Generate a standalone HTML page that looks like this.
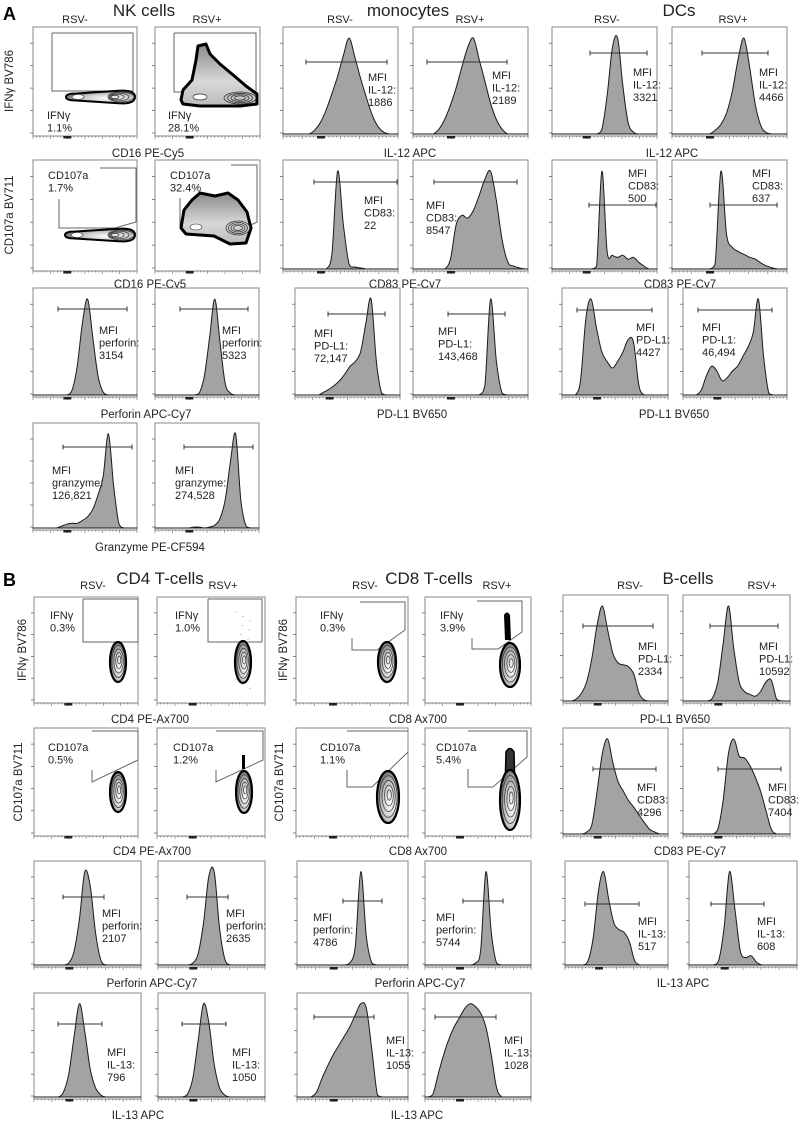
<!DOCTYPE html>
<html><head><meta charset="utf-8"><style>
html,body{margin:0;padding:0;background:#fff;}
svg{display:block;font-family:"Liberation Sans",sans-serif;}
</style></head><body>
<svg id="fig" width="800" height="1122" viewBox="0 0 800 1122" xmlns="http://www.w3.org/2000/svg">
<defs>
<radialGradient id="gblob" cx="0.6" cy="0.6" r="0.7">
<stop offset="0" stop-color="#ffffff"/><stop offset="0.5" stop-color="#c8c8c8"/><stop offset="1" stop-color="#555"/>
</radialGradient>
<linearGradient id="gbig" x1="0" y1="0" x2="0" y2="1">
<stop offset="0" stop-color="#8a8a8a"/><stop offset="0.6" stop-color="#d8d8d8"/><stop offset="1" stop-color="#bbbbbb"/>
</linearGradient>
</defs>
<g id="layer"></g>
</svg>
<script>
// ---- histogram data (relative counts per bin, 20 bins across each panel's x-axis) ----
const monoIl12Neg = [0,0,0,0,0,.04,.12,.25,.42,.6,.82,1,.8,.58,.38,.2,.08,.02,0,0];
const monoIl12Pos = [0,0,0,0,.05,.15,.3,.48,.7,.9,1,.78,.55,.32,.15,.05,0,0,0,0];
const dcIl12Neg = [0,0,0,0,0,0,0,0,0,.05,.4,.9,1,.5,.12,.02,0,0,0,0];
const dcIl12Pos = [0,0,0,0,0,0,0,.04,.1,.22,.45,.78,1,.7,.3,.08,.01,0,0,0];
const monoCd83Neg = [0,0,0,0,0,0,0,0,.15,1,.45,.05,.02,.01,0,0,0,0,0,0];
const monoCd83Pos = [0,0,0,0,0,0,.1,.45,.55,.52,.6,.75,.92,1,.7,.3,.07,.03,.01,0];
const dcCd83Neg = [0,0,0,0,0,0,0,0,.03,1,.18,.14,.12,.14,.1,.12,.07,.03,0,0];
const dcCd83Pos = [0,0,0,0,0,0,0,.05,1,.35,.22,.18,.15,.12,.1,.06,.03,.01,0,0];
const nkPerfNeg = [0,0,0,0,0,0,0,.05,.3,.75,1,.6,.2,.03,0,0,0,0,0,0];
const nkPerfPos = [0,0,0,0,0,0,0,0,.02,.2,.6,1,.55,.12,.02,0,0,0,0,0];
const monoPdl1Neg = [0,0,0,0,0,.03,.06,.1,.15,.22,.3,.35,.45,.75,1,.35,.02,0,0,0];
const monoPdl1Pos = [0,0,0,0,0,0,0,0,0,0,0,0,.1,1,.35,.02,0,0,0,0];
const dcPdl1Neg = [0,0,0,.15,.8,1,.7,.45,.35,.28,.35,.45,.58,.55,.1,0,0,0,0,0];
const dcPdl1Pos = [0,0,0,.05,.2,.3,.25,.15,.18,.25,.3,.4,.5,.65,1,.4,.02,0,0,0];
const nkGzmNeg = [0,0,0,0,0,.02,.04,.05,.05,.08,.12,.2,.35,.55,1,.45,.05,0,0,0];
const nkGzmPos = [0,0,0,0,0,0,0,.01,.01,0,.01,.03,.1,.3,.7,1,.3,.02,0,0];
const bPdl1Neg = [0,0,.02,.08,.2,.45,.8,1,.75,.5,.4,.38,.36,.28,.08,.01,0,0,0,0];
const bPdl1Pos = [0,0,0,0,0,.03,.2,.6,1,.55,.2,.1,.07,.05,.1,.2,.22,.02,0,0];
const bCd83Neg = [0,0,0,0,.02,.1,.45,.85,1,.75,.55,.45,.35,.28,.2,.12,.05,.02,0,0];
const bCd83Pos = [0,0,0,0,0,0,.05,.35,.85,1,.82,.8,.72,.6,.45,.25,.05,0,0,0];
const cd4PerfNeg = [0,0,0,0,0,0,.02,.15,.5,1,.85,.35,.05,0,0,0,0,0,0,0];
const cd4PerfPos = [0,0,0,0,0,0,.02,.12,.45,.95,1,.4,.06,0,0,0,0,0,0,0];
const cd8PerfNeg = [0,0,0,0,0,0,0,0,0,.02,.2,1,.3,.02,0,0,0,0,0,0];
const cd8PerfPos = [0,0,0,0,0,0,0,0,0,.02,.15,1,.35,.02,0,0,0,0,0,0];
const bIl13Neg = [0,0,0,0,.05,.3,.8,1,.7,.45,.38,.35,.25,.05,0,0,0,0,0,0];
const bIl13Pos = [0,0,0,0,0,.05,.4,1,.6,.15,.08,.1,.03,0,0,0,0,0,0,0];
const cd4Il13Neg = [0,0,0,0,0,.05,.25,.65,1,.7,.3,.1,.02,0,0,0,0,0,0,0];
const cd4Il13Pos = [0,0,0,0,0,.03,.2,.6,1,.8,.35,.1,.02,0,0,0,0,0,0,0];
const cd8Il13Neg = [0,0,0,.05,.2,.33,.45,.55,.65,.75,.88,1,.95,.5,.02,0,0,0,0,0];
const cd8Il13Pos = [0,.03,.25,.45,.62,.75,.85,.95,1,.97,.9,.75,.45,.1,0,0,0,0,0,0];

const NS='http://www.w3.org/2000/svg';
const layer=document.getElementById('layer');
function mk(tag,attrs,parent){const e=document.createElementNS(NS,tag);for(const k in attrs)e.setAttribute(k,attrs[k]);(parent||layer).appendChild(e);return e;}
function txt(x,y,s,size,anchor,parent,extra){const t=mk('text',Object.assign({x:x,y:y,'font-size':size,'text-anchor':anchor||'start',fill:'#222'},extra||{}),parent);t.textContent=s;return t;}

function axes(g,x0,y0,x1,y1){
  mk('rect',{x:x0,y:y0,width:x1-x0,height:y1-y0,fill:'#fff',stroke:'#888','stroke-width':1},g);
  for(let i=0;i<5;i++){const y=y1-3-(y1-y0-8)*i/4.5;mk('line',{x1:x0-3,y1:y,x2:x0,y2:y,stroke:'#555','stroke-width':0.7},g);}
  for(let i=0;i<=30;i++){const x=x0+(x1-x0)*i/30;mk('line',{x1:x,y1:y1,x2:x,y2:y1+(i%5==0?3:1.5),stroke:'#666','stroke-width':0.6},g);}
  const zx=x0+(x1-x0)*0.33;mk('rect',{x:zx-4,y:y1,width:8,height:2.5,fill:'#222'},g);
}
function smoothPath(pts,yb){
  let d='M'+pts[0][0].toFixed(1)+','+pts[0][1].toFixed(1);
  for(let i=0;i<pts.length-1;i++){
    const p0=pts[Math.max(0,i-1)],p1=pts[i],p2=pts[i+1],p3=pts[Math.min(pts.length-1,i+2)];
    const c1x=p1[0]+(p2[0]-p0[0])/6,c1y=Math.min(yb,p1[1]+(p2[1]-p0[1])/6);
    const c2x=p2[0]-(p3[0]-p1[0])/6,c2y=Math.min(yb,p2[1]-(p3[1]-p1[1])/6);
    d+=` C${c1x.toFixed(1)},${c1y.toFixed(1)} ${c2x.toFixed(1)},${c2y.toFixed(1)} ${p2[0].toFixed(1)},${p2[1].toFixed(1)}`;
  }
  return d;
}
function hist(name,x0,y0,x1,y1,vals,gate,lab){
  const g=mk('g',{});
  
  
  axes(g,x0,y0,x1,y1);
  const n=vals.length,w=(x1-x0)/n,yb=y1-2,H=(y1-y0)*0.88;
  const yS=v=>yb-v*H, xS=i=>x0+(i+0.5)*w;
  const pts=[[x0,yb]];
  vals.forEach((v,i)=>pts.push([xS(i),yS(v)]));
  pts.push([x1,yb]);
  const d=smoothPath(pts,yb)+' Z';
  const p=mk('path',{d:d,fill:'#a3a3a3',stroke:'#1a1a1a','stroke-width':1,'stroke-linejoin':'round'},g);
  
  
  const gl=mk('g',{},g);
  
  
  mk('line',{x1:gate[0],y1:gate[2],x2:gate[1],y2:gate[2],stroke:'#333','stroke-width':1},gl);
  mk('line',{x1:gate[0],y1:gate[2]-2.5,x2:gate[0],y2:gate[2]+2.5,stroke:'#333','stroke-width':1},gl);
  mk('line',{x1:gate[1],y1:gate[2]-2.5,x2:gate[1],y2:gate[2]+2.5,stroke:'#333','stroke-width':1},gl);
  const t=mk('g',{},g);
  
  
  lab[2].forEach((s,i)=>txt(lab[0],lab[1]+i*12.5,s,11,'start',t));
}
function dotPanel(name,x0,y0,x1,y1){
  const g=mk('g',{});
  
  
  axes(g,x0,y0,x1,y1);return g;
}
function gateLine(g,pts){const pl=mk('polyline',{points:pts,fill:'none',stroke:'#666','stroke-width':1},g);}
function label2(g,x,y,a,b){txt(x,y,a,11,'start',g);txt(x,y+12.5,b,11,'start',g);}
function vblob(g,cx,cy,rx,ry){
  mk('ellipse',{cx:cx,cy:cy,rx:rx,ry:ry,fill:'url(#gblob)',stroke:'#000','stroke-width':2.2},g);
  for(let k=1;k<=4;k++)mk('ellipse',{cx:cx+k*0.3,cy:cy-k*0.5,rx:rx*(1-k*0.2),ry:ry*(1-k*0.2),fill:'none',stroke:'#333','stroke-width':0.7},g);
}
function hblob(g,x0,x1,cy,ry){
  mk('path',{d:`M${x0},${cy} Q${x0},${cy-ry*0.7} ${x0+10},${cy-ry*0.7} L${x1-20},${cy-ry*1.2} Q${x1},${cy-ry*1.6} ${x1},${cy} Q${x1},${cy+ry*1.6} ${x1-20},${cy+ry*1.2} L${x0+10},${cy+ry*0.7} Q${x0},${cy+ry*0.7} ${x0},${cy}Z`,fill:'url(#gblob)',stroke:'#000','stroke-width':2},g);
  for(let k=1;k<=4;k++)mk('ellipse',{cx:x1-12-k*2,cy:cy,rx:16-k*3,ry:ry*(1.2-k*0.22),fill:'none',stroke:'#333','stroke-width':0.7},g);
  mk('ellipse',{cx:x0+12,cy:cy,rx:6,ry:ry*0.5,fill:'#fff',stroke:'#333','stroke-width':0.6},g);
}

// ---------- headings ----------
function head(x,y,s,size,name){const t=txt(x,y,s,size,'middle');}
txt(3,20,'A',18,'start',null,{'font-weight':'bold',fill:'#000'});
txt(3,586,'B',18,'start',null,{'font-weight':'bold',fill:'#000'});
head(144,16,'NK cells',17,'nk-cells-title');head(75,23,'RSV-',11,'rsv-neg-header');head(207,23,'RSV+',11,'rsv-pos-header');
head(408,16,'monocytes',17,'monocytes-title');head(340,23,'RSV-',11,'rsv-neg-header');head(470,23,'RSV+',11,'rsv-pos-header');
head(679,16,'DCs',17,'dcs-title');head(607,23,'RSV-',11,'rsv-neg-header');head(733,23,'RSV+',11,'rsv-pos-header');
head(160,584,'CD4 T-cells',17,'cd4-title');head(93,589,'RSV-',11,'rsv-neg-header');head(223,589,'RSV+',11,'rsv-pos-header');
head(429,584,'CD8 T-cells',17,'cd8-title');head(365,589,'RSV-',11,'rsv-neg-header');head(497,589,'RSV+',11,'rsv-pos-header');
head(688,584,'B-cells',17,'b-cells-title');head(630,589,'RSV-',11,'rsv-neg-header');head(762,589,'RSV+',11,'rsv-pos-header');

// x-axis titles
[[148,157,'CD16 PE-Cy5'],[410,157,'IL-12 APC'],[672,157,'IL-12 APC'],[150,288,'CD16 PE-Cy5'],[405,288,'CD83 PE-Cy7'],[680,288,'CD83 PE-Cy7'],
 [146,418,'Perforin APC-Cy7'],[412,418,'PD-L1 BV650'],[674,418,'PD-L1 BV650'],[150,551,'Granzyme PE-CF594'],
 [150,723,'CD4 PE-Ax700'],[418,723,'CD8 Ax700'],[675,723,'PD-L1 BV650'],[152,855,'CD4 PE-Ax700'],[418,855,'CD8 Ax700'],[690,855,'CD83 PE-Cy7'],
 [152,987,'Perforin APC-Cy7'],[420,987,'Perforin APC-Cy7'],[683,987,'IL-13 APC'],[138,1119,'IL-13 APC'],[417,1119,'IL-13 APC']
].forEach(a=>head(a[0],a[1],a[2],11.5,'x-axis-title'));
// y-axis titles
function ytitle(x,y,s){const t=txt(x,y,s,11.5,'middle',null,{transform:`rotate(-90 ${x} ${y})`});}
ytitle(13,81,'IFNγ BV786');ytitle(13,215,'CD107a BV711');
ytitle(26,650,'IFNγ BV786');ytitle(22,782,'CD107a BV711');ytitle(287,650,'IFNγ BV786');ytitle(283,782,'CD107a BV711');

// ---------- Section A dot plots ----------
let g=dotPanel('nk-ifng-rsv-neg',33,27,137,136);
gateLine(g,'52,33 133,33 133,91 52,91 52,33');hblob(g,66,135,97,5);label2(g,47,119,'IFNγ','1.1%');
g=dotPanel('nk-ifng-rsv-pos',155,27,260,136);
gateLine(g,'174,33 256,33 256,92 174,92 174,33');
mk('path',{d:'M181,100 L183,90 L192,80 L196,60 L198,46 L206,44 L210,54 L220,64 L232,74 L246,86 L257,94 L257,104 L240,106 L200,106 L183,104 Z',fill:'url(#gbig)',stroke:'#000','stroke-width':3,'stroke-linejoin':'round'},g);
mk('ellipse',{cx:200,cy:97,rx:7,ry:3,fill:'#fff',stroke:'#333','stroke-width':0.7},g);
for(let k=0;k<4;k++)mk('ellipse',{cx:240,cy:98,rx:16-k*3.5,ry:6-k*1.3,fill:'none',stroke:'#333','stroke-width':0.8},g);
label2(g,168,119,'IFNγ','28.1%');
g=dotPanel('nk-cd107a-rsv-neg',33,160,137,271);
gateLine(g,'100,168 136,168 136,222 115,228 59,228 59,199');hblob(g,65,135,235,5);label2(g,48,179,'CD107a','1.7%');
g=dotPanel('nk-cd107a-rsv-pos',155,160,260,271);
gateLine(g,'231,165 257,165 257,222 240,230');gateLine(g,'180,198 180,228');
mk('path',{d:'M181,228 L184,210 L192,200 L200,193 L215,196 L228,193 L238,200 L247,212 L251,228 L246,243 L230,244 L214,236 L186,234 Z',fill:'url(#gbig)',stroke:'#000','stroke-width':3,'stroke-linejoin':'round'},g);
for(let k=0;k<4;k++)mk('ellipse',{cx:238,cy:228,rx:12-k*2.5,ry:7-k*1.5,fill:'none',stroke:'#333','stroke-width':0.8},g);
mk('ellipse',{cx:196,cy:227,rx:6,ry:3,fill:'#fff',stroke:'#333','stroke-width':0.6},g);
label2(g,170,179,'CD107a','32.4%');

// ---------- Section A histograms ----------
hist('mono-il12-rsv-neg',283,27,398,136,monoIl12Neg,[306,387,62],[368,81,['MFI','IL-12:','1886']]);
hist('mono-il12-rsv-pos',413,27,528,136,monoIl12Pos,[427,507,62],[492,79,['MFI','IL-12:','2189']]);
hist('dc-il12-rsv-neg',552,27,657,136,dcIl12Neg,[590,647,53],[633,76,['MFI','IL-12:','3321']]);
hist('dc-il12-rsv-pos',672,27,787,136,dcIl12Pos,[702,768,53],[759,76,['MFI','IL-12:','4466']]);
hist('mono-cd83-rsv-neg',283,160,398,271,monoCd83Neg,[314,397,182],[364,204,['MFI','CD83:','22']]);
hist('mono-cd83-rsv-pos',413,160,528,271,monoCd83Pos,[434,517,182],[426,209,['MFI','CD83:','8547']]);
hist('dc-cd83-rsv-neg',552,160,657,271,dcCd83Neg,[589,656,205],[628,177,['MFI','CD83:','500']]);
hist('dc-cd83-rsv-pos',672,160,787,271,dcCd83Pos,[710,777,205],[752,177,['MFI','CD83:','637']]);
hist('nk-perforin-rsv-neg',33,288,137,397,nkPerfNeg,[58,127,309],[99,334,['MFI','perforin:','3154']]);
hist('nk-perforin-rsv-pos',155,288,259,397,nkPerfPos,[180,248,309],[222,334,['MFI','perforin:','5323']]);
hist('mono-pdl1-rsv-neg',295,288,400,397,monoPdl1Neg,[328,385,314],[314,337,['MFI','PD-L1:','72,147']]);
hist('mono-pdl1-rsv-pos',413,288,528,397,monoPdl1Pos,[448,505,314],[438,335,['MFI','PD-L1:','143,468']]);
hist('dc-pdl1-rsv-neg',562,288,668,397,dcPdl1Neg,[577,652,310],[636,331,['MFI','PD-L1:','4427']]);
hist('dc-pdl1-rsv-pos',683,288,787,397,dcPdl1Pos,[698,772,310],[702,331,['MFI','PD-L1:','46,494']]);
hist('nk-granzyme-rsv-neg',33,423,137,530,nkGzmNeg,[63,132,447],[52,474,['MFI','granzyme:','126,821']]);
hist('nk-granzyme-rsv-pos',155,423,259,530,nkGzmPos,[184,253,447],[175,474,['MFI','granzyme:','274,528']]);

// ---------- Section B dot plots ----------
g=dotPanel('cd4-ifng-rsv-neg',34,597,138,703);
gateLine(g,'83,599 138,599 138,642 83,642 83,599');vblob(g,118,662,8,20);label2(g,50,619,'IFNγ','0.3%');
g=dotPanel('cd4-ifng-rsv-pos',157,597,265,703);
gateLine(g,'208,599 262,599 262,642 208,642 208,599');vblob(g,243,662,8,21);
for(let k=0;k<18;k++)mk('circle',{cx:236+(k*7%15),cy:612+k*4.5,r:0.5,fill:'#777'},g);
label2(g,175,619,'IFNγ','1.0%');
g=dotPanel('cd8-ifng-rsv-neg',296,597,408,703);
gateLine(g,'360,602 405,602 405,630 377,650 352,650 352,638');vblob(g,387,662,9,20);label2(g,320,619,'IFNγ','0.3%');
g=dotPanel('cd8-ifng-rsv-pos',425,597,531,703);
gateLine(g,'477,601 522,601 522,632 498,649 472,649 472,638');
mk('path',{d:'M505,640 L504,615 Q507,610 510,615 L511,640 Z',fill:'#000'},g);vblob(g,510,665,10,22);label2(g,440,619,'IFNγ','3.9%');
g=dotPanel('cd4-cd107a-rsv-neg',34,728,138,836);
gateLine(g,'92,731 138,731 138,760 92,782 92,770');vblob(g,118,792,8,20);label2(g,48,751,'CD107a','0.5%');
g=dotPanel('cd4-cd107a-rsv-pos',157,728,265,836);
gateLine(g,'216,731 263,731 263,760 216,782 216,770');
mk('rect',{x:242,y:755,width:3,height:14,fill:'#000'},g);vblob(g,244,792,8,21);label2(g,173,751,'CD107a','1.2%');
g=dotPanel('cd8-cd107a-rsv-neg',296,728,408,836);
gateLine(g,'347,731 408,731');gateLine(g,'408,752 372,787 347,787 347,770');vblob(g,388,797,11,26);label2(g,320,751,'CD107a','1.1%');
g=dotPanel('cd8-cd107a-rsv-pos',425,728,531,836);
gateLine(g,'468,731 527,731 527,757 493,787 468,787 468,769');
mk('path',{d:'M505,790 L506,752 Q510,745 514,752 L515,790 Z',fill:'#333',stroke:'#000','stroke-width':1.5},g);
vblob(g,510,800,10,30);label2(g,436,751,'CD107a','5.4%');

// ---------- Section B histograms ----------
hist('bcell-pdl1-rsv-neg',563,595,668,703,bPdl1Neg,[583,653,626],[638,650,['MFI','PD-L1:','2334']]);
hist('bcell-pdl1-rsv-pos',683,595,790,703,bPdl1Pos,[710,778,626],[759,650,['MFI','PD-L1:','10592']]);
hist('bcell-cd83-rsv-neg',563,728,668,836,bCd83Neg,[593,656,769],[637,791,['MFI','CD83:','4296']]);
hist('bcell-cd83-rsv-pos',683,728,790,836,bCd83Pos,[718,781,769],[768,791,['MFI','CD83:','7404']]);
hist('cd4-perforin-rsv-neg',34,861,141,967,cd4PerfNeg,[63,104,897],[102,917,['MFI','perforin:','2107']]);
hist('cd4-perforin-rsv-pos',158,861,265,967,cd4PerfPos,[187,228,897],[226,917,['MFI','perforin:','2635']]);
hist('cd8-perforin-rsv-neg',297,861,408,967,cd8PerfNeg,[343,382,901],[313,921,['MFI','perforin:','4786']]);
hist('cd8-perforin-rsv-pos',425,861,531,967,cd8PerfPos,[463,503,901],[436,921,['MFI','perforin:','5744']]);
hist('bcell-il13-rsv-neg',565,861,668,967,bIl13Neg,[585,639,904],[638,925,['MFI','IL-13:','517']]);
hist('bcell-il13-rsv-pos',689,861,797,967,bIl13Pos,[711,764,904],[757,925,['MFI','IL-13:','608']]);
hist('cd4-il13-rsv-neg',34,993,141,1099,cd4Il13Neg,[58,102,1024],[107,1056,['MFI','IL-13:','796']]);
hist('cd4-il13-rsv-pos',158,993,265,1099,cd4Il13Pos,[182,226,1024],[232,1056,['MFI','IL-13:','1050']]);
hist('cd8-il13-rsv-neg',297,993,408,1099,cd8Il13Neg,[314,374,1017],[386,1044,['MFI','IL-13:','1055']]);
hist('cd8-il13-rsv-pos',425,993,531,1099,cd8Il13Pos,[435,496,1017],[504,1044,['MFI','IL-13:','1028']]);
</script>
</body></html>
